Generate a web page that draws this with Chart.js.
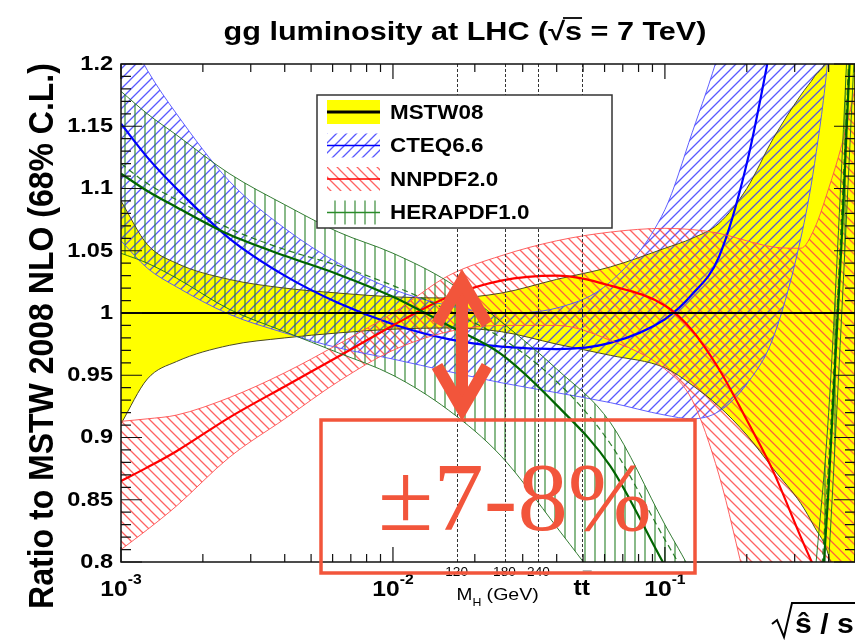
<!DOCTYPE html>
<html>
<head>
<meta charset="utf-8">
<title>gg luminosity at LHC</title>
<script src="https://cdn.jsdelivr.net/npm/chart.js@4.4.1/dist/chart.umd.min.js"></script>
<style>
  html, body { margin: 0; padding: 0; background: #fff; overflow: hidden; }
  #wrap { position: relative; width: 855px; height: 641px; }
  canvas { display: block; }
</style>
</head>
<body>
<div id="wrap"><canvas id="lumiChart" width="855" height="641"></canvas></div>
<script>
// ------------------ DATA ------------------
const xValues = [0.001, 0.00125, 0.0016, 0.0025, 0.004, 0.0063, 0.01, 0.016, 0.025, 0.04, 0.063,
                 0.1, 0.126, 0.158, 0.2, 0.25, 0.316, 0.355, 0.4, 0.447, 0.5];

const mstwUpper   = [1.09, 1.055, 1.04, 1.027, 1.02, 1.016, 1.013, 1.012, 1.016, 1.027, 1.037, 1.052, 1.06, 1.072, 1.1, 1.14, 1.175, 1.19, 1.21, 1.28, 1.4];
const mstwCentral = [1, 1, 1, 1, 1, 1, 1, 1, 1, 1, 1, 1, 1, 1, 1, 1, 1, 1, 1, 1, 1];
const mstwLower   = [0.911, 0.947, 0.961, 0.974, 0.98, 0.984, 0.987, 0.988, 0.985, 0.975, 0.966, 0.956, 0.942, 0.925, 0.902, 0.875, 0.847, 0.828, 0.805, 0.75, 0.6];

const cteqUpper   = [1.235, 1.195, 1.16, 1.106, 1.068, 1.04, 1.019, 1.006, 1.0, 1.004, 1.025, 1.083, 1.145, 1.21, 1.3, 1.4, 1.5, 1.55, 1.6, 1.65, 1.7];
const cteqCentral = [1.152, 1.125, 1.1, 1.06, 1.03, 1.008, 0.991, 0.979, 0.973, 0.971, 0.976, 0.995, 1.015, 1.045, 1.12, 1.225, 1.35, 1.4, 1.45, 1.5, 1.55];
const cteqLower   = [1.058, 1.036, 1.021, 0.999, 0.984, 0.972, 0.963, 0.953, 0.944, 0.936, 0.928, 0.918, 0.915, 0.921, 0.943, 0.98, 1.06, 1.12, 1.21, 1.35, 1.5];

const nnpdfUpper   = [0.913, 0.915, 0.918, 0.932, 0.952, 0.975, 1.0, 1.03, 1.046, 1.058, 1.065, 1.068, 1.067, 1.064, 1.058, 1.053, 1.052, 1.068, 1.1, 1.135, 1.18];
const nnpdfCentral = [0.865, 0.876, 0.889, 0.916, 0.941, 0.965, 0.99, 1.013, 1.026, 1.03, 1.022, 1.006, 0.986, 0.955, 0.914, 0.873, 0.82, 0.795, 0.77, 0.74, 0.71];
const nnpdfLower   = [0.81, 0.826, 0.845, 0.884, 0.915, 0.945, 0.97, 0.985, 0.99, 0.99, 0.978, 0.955, 0.93, 0.87, 0.78, 0.7, 0.65, 0.62, 0.6, 0.6, 0.6];

const heraUpper   = [1.178, 1.16, 1.143, 1.112, 1.087, 1.065, 1.048, 1.025, 0.993, 0.955, 0.912, 0.83, 0.79, 0.74, 0.7, 0.66, 0.65, 0.785, 0.92, 1.12, 1.35];
const heraCentral = [1.112, 1.098, 1.085, 1.063, 1.046, 1.031, 1.013, 0.99, 0.967, 0.926, 0.877, 0.797, 0.76, 0.72, 0.68, 0.63, 0.62, 0.7, 0.86, 1.06, 1.3];
const heraLower   = [1.048, 1.04, 1.028, 1.003, 0.985, 0.968, 0.95, 0.922, 0.885, 0.828, 0.77, 0.7, 0.65, 0.62, 0.6, 0.6, 0.6, 0.62, 0.8, 1.0, 1.22];
const heraAlt     = [1.12, 1.104, 1.091, 1.068, 1.051, 1.038, 1.022, 1.002, 0.98, 0.945, 0.895, 0.818, 0.78, 0.74, 0.7, 0.65, 0.64, 0.72, 0.88, 1.08, 1.32];

const legendLabels = ["MSTW08", "CTEQ6.6", "NNPDF2.0", "HERAPDF1.0"];
const yTickValues = [0.8, 0.85, 0.9, 0.95, 1, 1.05, 1.1, 1.15, 1.2];
const yTickLabels = ["0.8", "0.85", "0.9", "0.95", "1", "1.05", "1.1", "1.15", "1.2"];
const xMajorValues = [0.001, 0.01, 0.1];
const xMajorExps = ["-3", "-2", "-1"];

const sqrtS = 7000;            // GeV
const higgsMasses = [120, 180, 240];
const ttThreshold = 346;       // 2 m_t

const RED_NOTE = "#f2553b";
const FONT = '"Liberation Sans", Arial, Helvetica, sans-serif';

// ------------------ HATCH PATTERNS ------------------
function makeHatch(color, kind, step, lw) {
  const c = document.createElement("canvas");
  c.width = step;
  c.height = step;
  const g = c.getContext("2d");
  g.strokeStyle = color;
  g.lineWidth = lw;
  g.beginPath();
  if (kind === "up") {
    g.moveTo(0, step); g.lineTo(step, 0);
    g.moveTo(-1, 1); g.lineTo(1, -1);
    g.moveTo(step - 1, step + 1); g.lineTo(step + 1, step - 1);
  } else if (kind === "down") {
    g.moveTo(0, 0); g.lineTo(step, step);
    g.moveTo(-1, step - 1); g.lineTo(1, step + 1);
    g.moveTo(step - 1, -1); g.lineTo(step + 1, 1);
  } else {
    g.moveTo(step / 2, 0); g.lineTo(step / 2, step);
  }
  g.stroke();
  return g.createPattern(c, "repeat");
}

const blueHatch = makeHatch("rgba(60,60,255,0.85)", "up", 10, 1.3);
const redHatch = makeHatch("rgba(255,70,70,0.85)", "down", 10, 1.3);
const greenHatch = makeHatch("rgba(40,130,40,0.85)", "vert", 10, 1.3);

// ------------------ DATASETS ------------------
const pts = arr => xValues.map((x, i) => ({ x: x, y: arr[i] }));

function line(arr, color, width, order, extra) {
  return Object.assign({
    data: pts(arr),
    borderColor: color,
    borderWidth: width,
    pointRadius: 0,
    fill: false,
    cubicInterpolationMode: "monotone",
    clip: 0,
    order: order
  }, extra || {});
}

const datasets = [
  line(mstwCentral, "#000", 2.2, 0),

  line(heraUpper, "rgba(30,110,30,0.9)", 1, 1, { fill: "+1", backgroundColor: greenHatch }),
  line(heraLower, "rgba(30,110,30,0.9)", 1, 1),
  line(heraCentral, "#006400", 2.2, 1),
  line(heraAlt, "rgba(20,110,20,0.9)", 1.2, 1, { borderDash: [6, 4] }),

  line(nnpdfUpper, "rgba(255,80,80,0.9)", 1, 2, { fill: "+1", backgroundColor: redHatch }),
  line(nnpdfLower, "rgba(255,80,80,0.9)", 1, 2),
  line(nnpdfCentral, "#ff0000", 2.2, 2),

  line(cteqUpper, "rgba(80,80,255,0.9)", 1, 3, { fill: "+1", backgroundColor: blueHatch }),
  line(cteqLower, "rgba(80,80,255,0.9)", 1, 3),
  line(cteqCentral, "#0000ff", 2.2, 3),

  line(mstwUpper, "#4a4a20", 1, 4, { fill: "+1", backgroundColor: "#ffff00" }),
  line(mstwLower, "#4a4a20", 1, 4)
];

// ------------------ TEXT HELPER ------------------
function txt(ctx, s, x, y, font, color, align, sx, baseline) {
  ctx.save();
  ctx.translate(x, y);
  ctx.scale(sx || 1, 1);
  ctx.font = font;
  ctx.fillStyle = color;
  ctx.textAlign = align || "left";
  ctx.textBaseline = baseline || "alphabetic";
  ctx.fillText(s, 0, 0);
  ctx.restore();
}

// ------------------ OVERLAY DRAWING ------------------
function drawMassLines(chart) {
  const ctx = chart.ctx, xs = chart.scales.x, a = chart.chartArea;
  ctx.save();
  ctx.strokeStyle = "#333";
  ctx.lineWidth = 1;
  ctx.setLineDash([3, 2]);
  higgsMasses.concat([ttThreshold]).forEach(m => {
    const px = Math.round(xs.getPixelForValue(m / sqrtS)) + 0.5;
    ctx.beginPath();
    ctx.moveTo(px, a.top);
    ctx.lineTo(px, a.bottom);
    ctx.stroke();
  });
  ctx.restore();
}

function drawFrame(chart) {
  const ctx = chart.ctx, xs = chart.scales.x, ys = chart.scales.y, a = chart.chartArea;
  ctx.save();
  ctx.strokeStyle = "#111";
  ctx.lineWidth = 1.5;
  ctx.strokeRect(a.left, a.top, a.right - a.left, a.bottom - a.top);

  ctx.lineWidth = 1.2;
  ctx.beginPath();
  // x ticks (bottom and top, inward)
  [0.001, 0.01, 0.1].forEach(d => {
    for (let k = 1; k <= 9; k++) {
      const v = k * d;
      if (v > 0.5 + 1e-9) break;
      const px = xs.getPixelForValue(v);
      const len = k === 1 ? 15 : 8;
      ctx.moveTo(px, a.bottom); ctx.lineTo(px, a.bottom - len);
      ctx.moveTo(px, a.top); ctx.lineTo(px, a.top + len);
    }
  });
  // y ticks (left and right, inward)
  for (let i = 80; i <= 120; i++) {
    const py = ys.getPixelForValue(i / 100);
    const len = i % 5 === 0 ? 21 : 10;
    ctx.moveTo(a.left, py); ctx.lineTo(a.left + len, py);
    ctx.moveTo(a.right, py); ctx.lineTo(a.right - len, py);
  }
  ctx.stroke();
  ctx.restore();
}

function drawTitle(ctx) {
  const full = "gg luminosity at LHC (\u221As = 7 TeV)";
  const pre = "gg luminosity at LHC (\u221A";
  const font = "bold 25.5px " + FONT, sx = 1.2, cx = 465, base = 40;
  txt(ctx, full, cx, base, font, "#000", "center", sx);
  ctx.save();
  ctx.font = font;
  const left = cx - ctx.measureText(full).width * sx / 2;
  const x0 = left + ctx.measureText(pre).width * sx - 2;
  const x1 = x0 + ctx.measureText("s").width * sx + 2;
  ctx.strokeStyle = "#000";
  ctx.lineWidth = 1.8;
  ctx.beginPath();
  ctx.moveTo(x0, base - 22);
  ctx.lineTo(x1, base - 22);
  ctx.stroke();
  ctx.restore();
}

function drawLabels(chart) {
  const ctx = chart.ctx, xs = chart.scales.x, ys = chart.scales.y;

  drawTitle(ctx);

  // y tick labels
  yTickValues.forEach((v, i) => {
    txt(ctx, yTickLabels[i], 113, ys.getPixelForValue(v), "bold 21px " + FONT, "#000", "right", 1.12, "middle");
  });

  // x tick labels 10^n
  xMajorValues.forEach((v, i) => {
    const px = xs.getPixelForValue(v);
    ctx.save();
    ctx.font = "bold 22px " + FONT;
    const wBase = ctx.measureText("10").width * 1.12;
    ctx.font = "bold 14px " + FONT;
    const wExp = ctx.measureText(xMajorExps[i]).width * 1.12;
    ctx.restore();
    const left = px - (wBase + wExp) / 2;
    txt(ctx, "10", left, 596, "bold 22px " + FONT, "#000", "left", 1.12);
    txt(ctx, xMajorExps[i], left + wBase, 584, "bold 14px " + FONT, "#000", "left", 1.12);
  });

  // y axis title
  ctx.save();
  ctx.translate(43, 336);
  ctx.rotate(-Math.PI / 2);
  ctx.scale(1, 1.1);
  ctx.font = "bold 32px " + FONT;
  ctx.fillStyle = "#000";
  ctx.textAlign = "center";
  ctx.textBaseline = "middle";
  ctx.fillText("Ratio to MSTW 2008 NLO (68% C.L.)", 0, 0);
  ctx.restore();

  // Higgs mass labels
  higgsMasses.forEach(m => {
    txt(ctx, String(m), xs.getPixelForValue(m / sqrtS), 576, "13px " + FONT, "#000", "center", 1.05);
  });
  const mx = xs.getPixelForValue(higgsMasses[0] / sqrtS);
  txt(ctx, "M", mx, 600, "17px " + FONT, "#000", "left", 1.12);
  txt(ctx, "H", mx + 16, 606, "11px " + FONT, "#000", "left", 1.12);
  txt(ctx, "(GeV)", mx + 30, 600, "17px " + FONT, "#000", "left", 1.15);

  // t tbar
  const tx = xs.getPixelForValue(ttThreshold / sqrtS);
  txt(ctx, "tt", tx, 595, "bold 22px " + FONT, "#000", "center", 1.12);
  ctx.save();
  ctx.strokeStyle = "#888";
  ctx.lineWidth = 1.2;
  ctx.beginPath();
  ctx.moveTo(tx + 1, 571);
  ctx.lineTo(tx + 10, 571);
  ctx.stroke();
  ctx.restore();

  // x axis title sqrt(s^ / s), cut by the right border
  ctx.save();
  ctx.strokeStyle = "#000";
  ctx.lineWidth = 2;
  ctx.beginPath();
  ctx.moveTo(772, 624);
  ctx.lineTo(777, 620);
  ctx.lineTo(784, 637);
  ctx.lineTo(792, 603);
  ctx.lineTo(860, 603);
  ctx.stroke();
  ctx.restore();
  txt(ctx, "\u015D / s", 795, 633, "bold 27px " + FONT, "#000", "left", 1.12);
}

function drawLegend(chart) {
  const ctx = chart.ctx;
  const bx = 317, by = 95, bw = 295, bh = 133;
  ctx.save();
  ctx.fillStyle = "#fff";
  ctx.fillRect(bx, by, bw, bh);
  ctx.strokeStyle = "#333";
  ctx.lineWidth = 1.5;
  ctx.strokeRect(bx, by, bw, bh);

  const fills = ["#ffff00", blueHatch, redHatch, greenHatch];
  const lines = ["#000", "#0000ff", "#ff0000", "#2a8a2a"];
  legendLabels.forEach((lab, i) => {
    const cy = 112 + i * 33.5;
    ctx.fillStyle = fills[i];
    ctx.fillRect(327, cy - 12, 53, 24);
    ctx.strokeStyle = lines[i];
    ctx.lineWidth = i === 0 ? 3 : 1.6;
    ctx.beginPath();
    ctx.moveTo(327, cy);
    ctx.lineTo(380, cy);
    ctx.stroke();
    txt(ctx, lab, 390, cy + 1, "bold 20px " + FONT, "#000", "left", 1.12, "middle");
  });
  ctx.restore();
}

function drawAnnotation(chart) {
  const ctx = chart.ctx;
  ctx.save();
  ctx.strokeStyle = RED_NOTE;
  ctx.lineJoin = "miter";
  ctx.lineCap = "butt";

  // double-headed arrow
  const ax = 462;
  ctx.lineWidth = 12;
  ctx.beginPath();
  ctx.moveTo(ax, 284);
  ctx.lineTo(ax, 406);
  ctx.stroke();
  ctx.beginPath();
  ctx.moveTo(ax - 25, 324);
  ctx.lineTo(ax, 281);
  ctx.lineTo(ax + 25, 324);
  ctx.stroke();
  ctx.beginPath();
  ctx.moveTo(ax - 25, 366);
  ctx.lineTo(ax, 409);
  ctx.lineTo(ax + 25, 366);
  ctx.stroke();

  // box
  ctx.lineWidth = 3.5;
  ctx.strokeRect(321, 420, 374, 153);
  ctx.restore();

  txt(ctx, "\u00B17-8%", 378, 530, '97px "Liberation Serif", "Times New Roman", serif', RED_NOTE, "left", 1.04);
}

const overlayPlugin = {
  id: "overlay",
  afterDatasetsDraw(chart) {
    drawMassLines(chart);
  },
  afterDraw(chart) {
    drawFrame(chart);
    drawLabels(chart);
    drawLegend(chart);
    drawAnnotation(chart);
  }
};

// ------------------ CHART ------------------
const ctx = document.getElementById("lumiChart").getContext("2d");
new Chart(ctx, {
  type: "line",
  data: { datasets: datasets },
  plugins: [overlayPlugin],
  options: {
    responsive: false,
    animation: false,
    devicePixelRatio: 1,
    layout: { padding: { left: 121, top: 64, right: 0, bottom: 79 } },
    scales: {
      x: { type: "logarithmic", min: 0.001, max: 0.5, display: false },
      y: { type: "linear", min: 0.8, max: 1.2, display: false }
    },
    plugins: {
      legend: { display: false },
      tooltip: { enabled: false },
      filler: { propagate: false, drawTime: "beforeDatasetsDraw" }
    }
  }
});
</script>
</body>
</html>
